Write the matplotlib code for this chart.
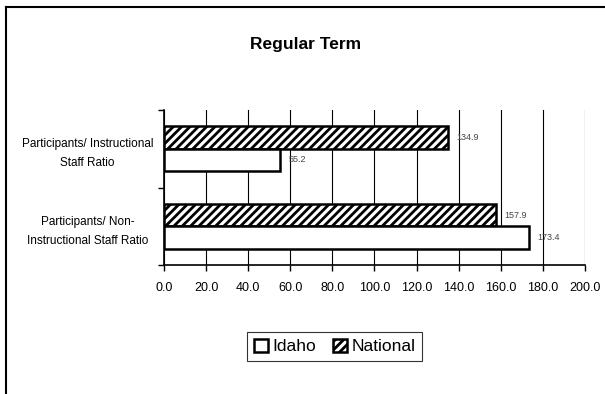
import matplotlib
matplotlib.use("Agg")
import matplotlib.pyplot as plt
from matplotlib.lines import Line2D

plt.rcParams['font.family'] = ['Liberation Sans', 'DejaVu Sans']
plt.rcParams['hatch.linewidth'] = 2.0

categories = ["Participants/ Instructional\nStaff Ratio",
              "Participants/ Non-\nInstructional Staff Ratio"]
idaho = [55.2, 173.4]
national = [134.9, 157.9]
xticks = [0, 20, 40, 60, 80, 100, 120, 140, 160, 180, 200]

fig = plt.figure(figsize=(6.05, 3.94), dpi=100)
ax = fig.add_axes([164/605, 1-265/394, 421/605, 155/394])

pos = list(range(len(categories)))
h = 0.29
nat_pos = [p - h/2 for p in pos]
ida_pos = [p + h/2 for p in pos]
b1 = ax.barh(nat_pos, national, height=h, color='white', edgecolor='black',
             linewidth=1.8, hatch='////', label='National', zorder=3)
b2 = ax.barh(ida_pos, idaho, height=h, color='white', edgecolor='black',
             linewidth=1.8, label='Idaho', zorder=3)

for y, v in zip(nat_pos, national):
    ax.text(v + 4, y, f"{v:.1f}", va='center', ha='left', fontsize=6.5, color='#444444')
for y, v in zip(ida_pos, idaho):
    ax.text(v + 4, y, f"{v:.1f}", va='center', ha='left', fontsize=6.5, color='#444444')

ax.set_xlim(0, 200)
ax.set_ylim(1.5, -0.5)
ax.set_xticks(xticks)
ax.set_xticklabels([f"{t:.1f}" for t in xticks], fontsize=9)
ax.set_yticks([-0.5, 0.5, 1.5])
ax.set_yticklabels([])
ax.set_yticks(pos, minor=True)
ax.set_yticklabels(categories, minor=True, fontsize=8.5, ha='center',
                   multialignment='center', linespacing=1.8)
ax.tick_params(axis='y', which='minor', length=0, pad=55)
ax.tick_params(axis='y', which='major', length=4, width=1, direction='out')
ax.tick_params(axis='x', length=4, width=1, direction='out', pad=8)
ax.xaxis.grid(True, color='black', linewidth=0.8, zorder=0)
ax.set_axisbelow(True)
for s in ['top', 'right']:
    ax.spines[s].set_visible(False)
for s in ['left', 'bottom']:
    ax.spines[s].set_linewidth(1.2)

fig.text(0.505, 1-45/394, "Regular Term", ha='center', va='center',
         fontsize=12.5, fontweight='bold')

leg = fig.legend([b2, b1], ['Idaho', 'National'], loc='center',
                 bbox_to_anchor=(334.5/605, 1-346.5/394), ncol=2, fontsize=12.5,
                 frameon=True, fancybox=False, edgecolor='black',
                 handlelength=0.8, handleheight=0.8, handletextpad=0.25,
                 columnspacing=1.0, borderpad=0.4)
leg.get_frame().set_linewidth(0.8)

fig.add_artist(Line2D([6/605, 6/605], [0, 1-7/394], color='black', linewidth=1.5, transform=fig.transFigure))
fig.add_artist(Line2D([6/605, 1], [1-7/394, 1-7/394], color='black', linewidth=1.5, transform=fig.transFigure))

fig.savefig("out.png", dpi=100)
